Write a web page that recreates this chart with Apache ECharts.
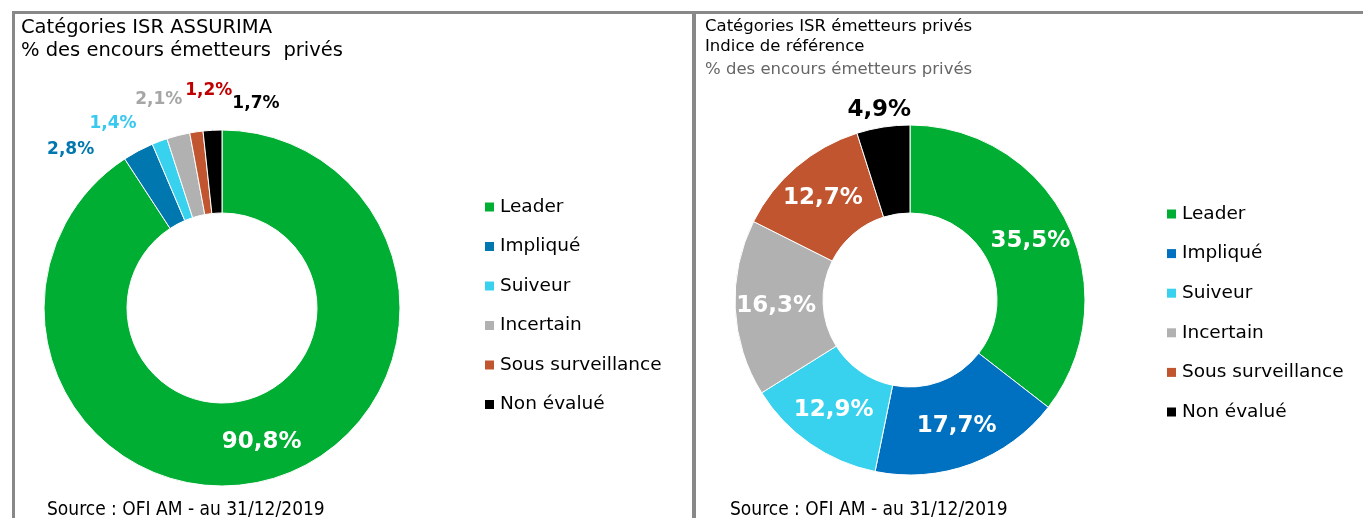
<!DOCTYPE html>
<html>
<head>
<meta charset="utf-8">
<script src="https://cdn.jsdelivr.net/npm/echarts@6/dist/echarts.min.js"></script>
<style>
  html, body { margin: 0; padding: 0; background: #fff; }
  #chart { width: 1363px; height: 518px; }
</style>
</head>
<body>
<div id="chart"></div>
<script>
// données
const categories = ['Leader', 'Impliqué', 'Suiveur', 'Incertain', 'Sous surveillance', 'Non évalué'];
const assurimaValues = [90.8, 2.8, 1.4, 2.1, 1.2, 1.7];
const indexValues = [35.5, 17.7, 12.9, 16.3, 12.7, 4.9];

// couleurs
const leftColors = ['#00AE34', '#0077AE', '#38D2EE', '#B1B1B1', '#C0552F', '#000000'];
const rightColors = ['#00AE34', '#0070C0', '#38D2EE', '#B1B1B1', '#C0552F', '#000000'];
const leftLabelColors = ['#ffffff', '#0077AE', '#38C8F0', '#A6A6A6', '#C00000', '#000000'];
// décalage des étiquettes extérieures (style)
const leftLabelShift = [[0, 0], [-39, -1], [-18, -18], [9, -36], [41, -41], [72, -27]];
const rightLabelShift = [[0, 0], [0, 0], [0, 0], [0, 0], [0, 0], [33, -17]];

const fmt = v => v.toFixed(1).replace('.', ',') + '%';
const font = '"DejaVu Sans", "Liberation Sans", sans-serif';
const condensed = '"DejaVu Sans Condensed", "Liberation Sans", sans-serif';

const chart = echarts.init(document.getElementById('chart'));

const leftData = categories.map((name, i) => ({
  name: name,
  value: assurimaValues[i],
  itemStyle: { color: leftColors[i] },
  label: i === 0
    ? { position: 'inside', color: '#fff', fontSize: 23 }
    : { position: 'outside', color: leftLabelColors[i], fontSize: 17 }
}));

const rightData = categories.map((name, i) => ({
  name: name,
  value: indexValues[i],
  itemStyle: { color: rightColors[i] },
  label: i === 5
    ? { position: 'outside', color: '#000' }
    : { position: 'inside', color: '#fff' }
}));

const legendText = {
  fontFamily: font,
  fontSize: 18.5,
  color: '#000',
  lineHeight: 20,
  padding: [0, 0, 0, 1]
};

chart.setOption({
  animation: false,
  backgroundColor: '#fff',
  title: [
    {
      text: 'Catégories ISR ASSURIMA\n% des encours émetteurs  privés',
      left: 21, top: 16, padding: 0,
      textStyle: { fontFamily: font, fontSize: 19.5, fontWeight: 'normal', color: '#000', lineHeight: 23 }
    },
    {
      text: 'Catégories ISR émetteurs privés\nIndice de référence',
      left: 705, top: 17, padding: 0,
      textStyle: { fontFamily: font, fontSize: 16.5, fontWeight: 'normal', color: '#000', lineHeight: 20 }
    },
    {
      text: '% des encours émetteurs privés',
      left: 705, top: 60, padding: 0,
      textStyle: { fontFamily: font, fontSize: 16.5, fontWeight: 'normal', color: '#666', lineHeight: 20 }
    }
  ],
  legend: [
    {
      orient: 'vertical', left: 485, top: 197, padding: 0,
      itemWidth: 9, itemHeight: 9, itemGap: 19.5, icon: 'rect',
      itemStyle: { borderWidth: 0 },
      textStyle: legendText,
      data: categories.map((n, i) => ({ name: n, itemStyle: { color: leftColors[i] } }))
    },
    {
      orient: 'vertical', left: 1167, top: 204, padding: 0,
      itemWidth: 9, itemHeight: 9, itemGap: 19.6, icon: 'rect',
      itemStyle: { borderWidth: 0 },
      textStyle: legendText,
      data: categories.map((n, i) => ({ name: n, itemStyle: { color: rightColors[i] } }))
    }
  ],
  graphic: [
    { type: 'rect', shape: { x: 12, y: 11, width: 1351, height: 3 }, style: { fill: '#888' } },
    { type: 'rect', shape: { x: 12, y: 11, width: 3, height: 507 }, style: { fill: '#888' } },
    { type: 'rect', shape: { x: 692, y: 11, width: 4, height: 507 }, style: { fill: '#888' } },
    {
      type: 'text', left: 47, top: 501,
      style: { text: 'Source : OFI AM - au 31/12/2019', fontFamily: condensed, fontSize: 19, fill: '#000' }
    },
    {
      type: 'text', left: 730, top: 501,
      style: { text: 'Source : OFI AM - au 31/12/2019', fontFamily: condensed, fontSize: 19, fill: '#000' }
    }
  ],
  series: [
    {
      type: 'pie',
      center: [222, 308],
      radius: [95, 178],
      startAngle: 90,
      clockwise: true,
      avoidLabelOverlap: false,
      itemStyle: { borderColor: '#fff', borderWidth: 1 },
      label: { show: true, fontFamily: font, fontWeight: 'bold', formatter: p => fmt(p.value) },
      labelLine: { show: false, length: 0, length2: 0 },
      labelLayout: p => ({ dx: leftLabelShift[p.dataIndex][0], dy: leftLabelShift[p.dataIndex][1] }),
      emphasis: { disabled: true },
      data: leftData
    },
    {
      type: 'pie',
      center: [910, 300],
      radius: [87, 175],
      startAngle: 90,
      clockwise: true,
      avoidLabelOverlap: false,
      itemStyle: { borderColor: '#fff', borderWidth: 1 },
      label: { show: true, fontFamily: font, fontWeight: 'bold', fontSize: 23, formatter: p => fmt(p.value) },
      labelLine: { show: false, length: 0, length2: 0 },
      labelLayout: p => ({ dx: rightLabelShift[p.dataIndex][0], dy: rightLabelShift[p.dataIndex][1] }),
      emphasis: { disabled: true },
      data: rightData
    }
  ]
});
</script>
</body>
</html>
